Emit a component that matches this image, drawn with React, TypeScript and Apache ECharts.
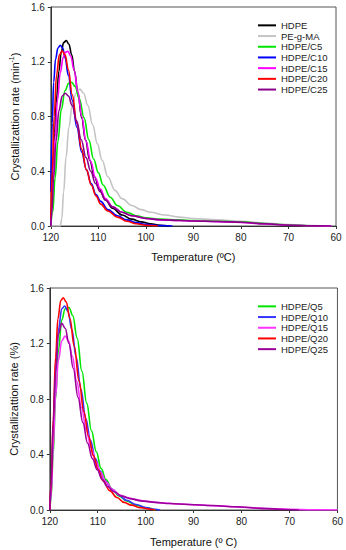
import React, { useEffect, useRef } from "react";
import * as echarts from "echarts";

// ---- Top panel: HDPE / PE-g-MA / HDPE-Cx ----
const topNames = ["HDPE", "PE-g-MA", "HDPE/C5", "HDPE/C10", "HDPE/C15", "HDPE/C20", "HDPE/C25"];
const topColors = ["#000000", "#c4c4c4", "#00e600", "#0000ff", "#ff00ff", "#ff0000", "#8b008b"];

const hdpe = [[120,0],[119.8,0.15],[119.5,0.42],[119.2,0.68],[118.8,0.93],[118.3,1.13],[117.8,1.27],[117.3,1.34],[116.75,1.354],[116.2,1.33],[115.6,1.25],[115,1.13],[114.3,0.97],[113.5,0.79],[112.7,0.63],[111.8,0.48],[110.8,0.36],[109.8,0.27],[108.5,0.19],[107,0.13],[105,0.08],[103,0.05],[101,0.03],[99,0.016],[97,0.006],[95,0]];
const pegma = [[120,0],[118,0],[117.7,0.05],[117.3,0.25],[116.8,0.5],[116.2,0.72],[115.5,0.88],[114.7,0.97],[113.9,1.0],[113.1,0.97],[112.2,0.88],[111.2,0.74],[110.2,0.6],[109.2,0.48],[108,0.36],[106.5,0.26],[105,0.2],[103,0.15],[101,0.12],[99,0.1],[96,0.08],[93,0.065],[90,0.055],[85,0.045],[80,0.035],[75,0.022],[70,0.01],[65,0.004],[61,0]];
const c5 = [[120,0],[119.6,0.1],[119.1,0.35],[118.5,0.62],[117.8,0.85],[117,0.99],[116.2,1.045],[115.6,1.05],[114.9,1.02],[114,0.93],[113,0.79],[112,0.63],[111,0.49],[110,0.39],[109,0.3],[107.5,0.21],[106,0.15],[104,0.1],[102,0.075],[100,0.06],[97,0.05],[93,0.045],[90,0.04],[85,0.035],[80,0.03],[75,0.018],[70,0.008],[66,0.002],[65,0]];
const c10 = [[120,0.25],[119.7,0.75],[119.4,1.05],[119,1.22],[118.5,1.3],[118,1.32],[117.5,1.3],[117,1.23],[116.3,1.1],[115.5,0.92],[114.5,0.72],[113.5,0.54],[112.5,0.41],[111.5,0.31],[110.5,0.23],[109.5,0.18],[108,0.12],[106,0.075],[104,0.045],[102,0.025],[100,0.012],[97,0.003],[94.4,0]];
const c15 = [[120,0],[119.8,0.1],[119.5,0.35],[119.1,0.65],[118.6,0.92],[118,1.12],[117.4,1.23],[116.9,1.27],[116.4,1.276],[115.8,1.24],[115.1,1.14],[114.3,0.98],[113.5,0.8],[112.6,0.62],[111.6,0.47],[110.6,0.35],[109.6,0.27],[108.5,0.2],[107,0.14],[105,0.1],[103,0.075],[100,0.055],[97,0.045],[93,0.04],[90,0.037],[85,0.032],[80,0.026],[75,0.015],[70,0.006],[65,0.001],[61,0]];
const c20 = [[120,0.05],[119.7,0.4],[119.3,0.8],[118.8,1.1],[118.2,1.25],[117.6,1.28],[117,1.25],[116.3,1.14],[115.5,0.96],[114.5,0.75],[113.5,0.56],[112.5,0.41],[111.5,0.3],[110.5,0.22],[109.5,0.16],[108,0.11],[106,0.065],[104,0.035],[102,0.016],[100,0.005],[97.5,0]];
const c25 = [[120,0],[119.8,0.1],[119.4,0.35],[118.9,0.62],[118.3,0.84],[117.6,0.95],[116.95,0.97],[116.3,0.95],[115.5,0.88],[114.6,0.77],[113.6,0.63],[112.6,0.5],[111.6,0.4],[110.6,0.31],[109.6,0.25],[108.5,0.19],[107,0.14],[105,0.1],[103,0.075],[100,0.055],[97,0.046],[93,0.04],[90,0.037],[85,0.033],[80,0.027],[75,0.016],[70,0.006],[65,0.001],[61,0]];
const topData = [hdpe, pegma, c5, c10, c15, c20, c25];

// ---- Bottom panel: HDPE-Qx ----
const botNames = ["HDPE/Q5", "HDPE/Q10", "HDPE/Q15", "HDPE/Q20", "HDPE/Q25"];
const botColors = ["#00e600", "#3535ff", "#ff33ff", "#ff0000", "#9a009a"];

const q5 = [[120,0],[119.7,0.1],[119.3,0.4],[118.8,0.8],[118.2,1.15],[117.5,1.37],[116.8,1.45],[116,1.46],[115.2,1.4],[114.3,1.24],[113.3,1.0],[112.3,0.77],[111.3,0.57],[110.3,0.42],[109.3,0.3],[108.3,0.22],[107,0.15],[105.5,0.1],[104,0.065],[102,0.035],[100,0.015],[98,0]];
const q10 = [[120,0],[119.7,0.15],[119.3,0.55],[118.8,0.98],[118.2,1.3],[117.5,1.45],[116.9,1.47],[116.2,1.43],[115.4,1.3],[114.5,1.1],[113.5,0.87],[112.5,0.66],[111.5,0.5],[110.5,0.37],[109.5,0.28],[108.5,0.21],[107,0.15],[105.5,0.105],[104,0.07],[102,0.04],[100,0.018],[98,0.005],[97,0]];
const q15 = [[120,0],[119.7,0.12],[119.3,0.45],[118.8,0.82],[118.2,1.08],[117.5,1.22],[116.8,1.254],[116.1,1.22],[115.3,1.11],[114.4,0.93],[113.4,0.74],[112.4,0.58],[111.4,0.45],[110.4,0.35],[109.4,0.27],[108.2,0.2],[107,0.15],[105.5,0.11],[104,0.09],[102,0.075],[100,0.063],[97,0.052],[94,0.045],[90,0.038],[85,0.03],[80,0.02],[75,0.011],[70,0.005],[65,0.001],[60,0]];
const q20 = [[120,0],[119.7,0.2],[119.3,0.65],[118.8,1.1],[118.3,1.38],[117.7,1.51],[117.2,1.53],[116.6,1.5],[115.8,1.38],[114.9,1.18],[113.9,0.93],[112.9,0.71],[111.9,0.53],[110.9,0.39],[109.9,0.29],[108.9,0.21],[107.5,0.14],[106,0.09],[104.5,0.055],[103,0.035],[101,0.016],[99,0.005],[98,0]];
const q25 = [[120,0],[119.7,0.2],[119.3,0.62],[118.8,1.0],[118.2,1.27],[117.5,1.345],[116.8,1.31],[116,1.2],[115.1,1.02],[114.1,0.81],[113.1,0.63],[112.1,0.48],[111.1,0.37],[110.1,0.29],[109.1,0.22],[108,0.17],[106.5,0.13],[105,0.1],[103,0.08],[101,0.066],[98,0.055],[95,0.047],[91,0.04],[86,0.032],[81,0.023],[76,0.012],[71,0.004],[68,0]];
const botData = [q5, q10, q15, q20, q25];

const yTicks = [0, 0.4, 0.8, 1.2, 1.6];
const xTicks = [120, 110, 100, 90, 80, 70, 60];

const FONT = "Liberation Sans";

function xAxisCfg(gridIndex: number, name: string, gap: number) {
  return {
    type: "value",
    gridIndex,
    min: xTicks[xTicks.length - 1],
    max: xTicks[0],
    interval: 10,
    inverse: true,
    name,
    nameLocation: "middle",
    nameGap: gap,
    nameTextStyle: { fontFamily: FONT, fontSize: 11, color: "#111" },
    axisLine: { show: true, lineStyle: { color: "#333", width: 1 } },
    axisTick: { show: true, inside: false, length: 3, lineStyle: { color: "#333" } },
    axisLabel: { fontFamily: FONT, fontSize: 10, color: "#222", margin: 6 },
    splitLine: { show: false },
  };
}

function yAxisCfg(gridIndex: number, name: string, gap: number) {
  return {
    type: "value",
    gridIndex,
    min: yTicks[0],
    max: yTicks[yTicks.length - 1],
    interval: 0.4,
    name,
    nameLocation: "middle",
    nameGap: gap,
    nameTextStyle: {
      fontFamily: FONT,
      fontSize: 11,
      color: "#111",
      rich: { sup: { fontFamily: FONT, fontSize: 7, verticalAlign: "top", padding: [0, 0, 6, 0], color: "#111" } },
    },
    axisLine: { show: true, lineStyle: { color: "#333", width: 1 } },
    axisTick: { show: true, inside: false, length: 3, lineStyle: { color: "#333" } },
    axisLabel: {
      fontFamily: FONT,
      fontSize: 10,
      color: "#222",
      margin: 6,
      formatter: (v: number) => v.toFixed(1),
    },
    splitLine: { show: false },
  };
}

export default function App() {
  const ref = useRef<HTMLDivElement>(null);
  useEffect(() => {
    if (!ref.current) return;
    const chart = echarts.init(ref.current, null, { renderer: "svg" });
    const series: any[] = [];
    topData.forEach((d, i) => {
      series.push({
        type: "line",
        name: topNames[i],
        xAxisIndex: 0,
        yAxisIndex: 0,
        data: d,
        showSymbol: false,
        smooth: 0.4,
        smoothMonotone: "x",
        lineStyle: { color: topColors[i], width: 1.6 },
        itemStyle: { color: topColors[i] },
      });
    });
    botData.forEach((d, i) => {
      series.push({
        type: "line",
        name: botNames[i],
        xAxisIndex: 1,
        yAxisIndex: 1,
        data: d,
        showSymbol: false,
        smooth: 0.4,
        smoothMonotone: "x",
        lineStyle: { color: botColors[i], width: 1.6 },
        itemStyle: { color: botColors[i] },
      });
    });
    const legendBase = {
      orient: "vertical",
      icon: "rect",
      itemWidth: 18,
      itemHeight: 2,
      itemGap: 0,
      padding: 0,
      textStyle: { fontFamily: FONT, fontSize: 9.5, color: "#222", lineHeight: 10.7, padding: [0, 0, 0, 0] },
    };
    chart.setOption({
      animation: false,
      backgroundColor: "#ffffff",
      grid: [
        { left: 41, top: 7, width: 295, height: 219, show: true, borderColor: "#555", borderWidth: 1, backgroundColor: "transparent" },
        { left: 39, top: 288, width: 301, height: 222, show: true, borderColor: "#555", borderWidth: 1, backgroundColor: "transparent" },
      ],
      xAxis: [
        xAxisCfg(0, "Temperature (ºC)", 25),
        xAxisCfg(1, "Temperature (º C)", 26),
      ],
      yAxis: [
        yAxisCfg(0, "Crystallizattion rate (min{sup|-1})", 29),
        yAxisCfg(1, "Crystallizattion rate (%)", 29),
      ],
      legend: [
        { ...legendBase, data: topNames, left: 258, top: 20 },
        { ...legendBase, data: botNames, left: 258, top: 301 },
      ],
      series,
    });
    return () => chart.dispose();
  }, []);
  return (
    <div
      ref={ref}
      style={{ position: "fixed", left: 0, top: 0, width: 346, height: 550, background: "#fff" }}
    />
  );
}
